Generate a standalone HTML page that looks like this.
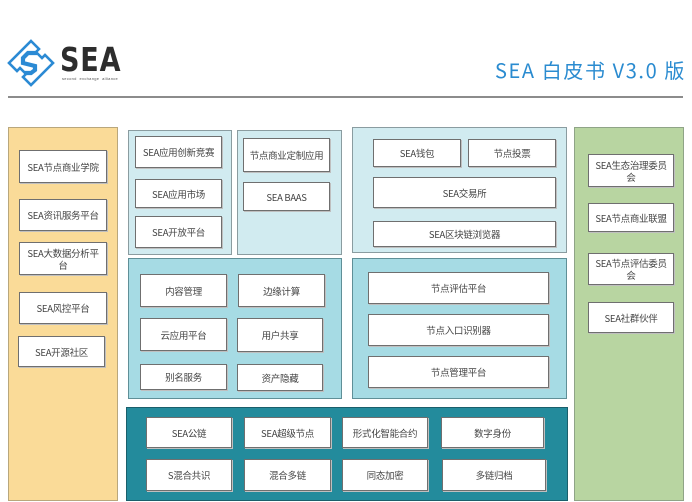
<!DOCTYPE html>
<html><head><meta charset="utf-8">
<style>
*{margin:0;padding:0;box-sizing:border-box}
body{width:692px;height:502px;background:#fff;position:relative;overflow:hidden;font-family:"Liberation Sans","Noto Sans CJK SC",sans-serif}
.p{position:absolute;border:1.5px solid #8a9ca0}
.b{position:absolute;background:#fff;border:1px solid #6f6f6f;box-shadow:1px 1px 0 #bfbfbf;display:flex;align-items:center;justify-content:center;text-align:center;font-size:9.5px;color:#444;line-height:12px;padding:0 3px;font-family:"Noto Sans CJK SC",sans-serif;letter-spacing:-0.3px;white-space:nowrap}
</style></head><body>
<svg style="position:absolute;left:6px;top:38px" width="50" height="50" viewBox="0 0 50 50">
<path d="M25 3 L33 11 L30 14 L36 20 L39 17 L47 25 L25 47 L17 39 L20 36 L14 30 L11 33 L3 25 Z" fill="none" stroke="#2b8ad4" stroke-width="2.6" stroke-linejoin="miter"/>
<path d="M31 15 L22 15 L17 20 L17 25 L29 28 L29 32 L25 35 L18 35" fill="none" stroke="#2b8ad4" stroke-width="4.2" stroke-linejoin="miter"/>
</svg>
<div style="position:absolute;left:60px;top:40px;font-size:33px;font-weight:bold;color:#2d2d2d;letter-spacing:1px;font-family:'DejaVu Sans','Liberation Sans',sans-serif;transform:scaleX(0.82);transform-origin:left top">SEA</div>
<div style="position:absolute;left:62px;top:76px;font-size:4px;color:#555;letter-spacing:0.3px">second&nbsp;&nbsp;exchange&nbsp;&nbsp;alliance</div>
<div style="position:absolute;left:495px;top:55px;font-size:20px;color:#2a8bd0;font-family:'Noto Sans CJK SC',sans-serif;letter-spacing:1.6px;white-space:nowrap">SEA 白皮书 V3.0 版</div>
<div style="position:absolute;left:8px;top:96px;width:675px;height:2px;background:#8c8c8c"></div>

<!-- panels -->
<div class="p" style="left:8px;top:127px;width:110px;height:374px;background:#fadb98;border-color:#b9a77c"></div>
<div class="p" style="left:128px;top:130px;width:104px;height:125px;background:#d1ebf0"></div>
<div class="p" style="left:237px;top:130px;width:105px;height:125px;background:#d1ebf0"></div>
<div class="p" style="left:352px;top:127px;width:215px;height:126px;background:#d1ebf0"></div>
<div class="p" style="left:574px;top:127px;width:110px;height:374px;background:#b8d5a1;border-color:#8fa487"></div>
<div class="p" style="left:128px;top:258px;width:214px;height:141px;background:#a6dbe4;border-color:#5f8f97"></div>
<div class="p" style="left:352px;top:258px;width:215px;height:141px;background:#a6dbe4;border-color:#5f8f97"></div>
<div class="p" style="left:126px;top:407px;width:442px;height:94px;background:#238b9c;border-color:#1a5f6b"></div>

<!-- left -->
<div class="b" style="left:19px;top:150px;width:88px;height:33px">SEA节点商业学院</div>
<div class="b" style="left:19px;top:199px;width:88px;height:32px">SEA资讯服务平台</div>
<div class="b" style="left:19px;top:242px;width:88px;height:33px">SEA大数据分析平<br>台</div>
<div class="b" style="left:19px;top:292px;width:88px;height:32px">SEA风控平台</div>
<div class="b" style="left:18px;top:336px;width:87px;height:31px">SEA开源社区</div>

<!-- top middle -->
<div class="b" style="left:135px;top:136px;width:87px;height:32px">SEA应用创新竞赛</div>
<div class="b" style="left:135px;top:179px;width:87px;height:29px">SEA应用市场</div>
<div class="b" style="left:135px;top:216px;width:87px;height:32px">SEA开放平台</div>
<div class="b" style="left:243px;top:138px;width:87px;height:34px">节点商业定制应用</div>
<div class="b" style="left:243px;top:182px;width:87px;height:29px">SEA BAAS</div>
<div class="b" style="left:373px;top:139px;width:88px;height:28px">SEA钱包</div>
<div class="b" style="left:468px;top:139px;width:88px;height:28px">节点投票</div>
<div class="b" style="left:373px;top:177px;width:183px;height:31px">SEA交易所</div>
<div class="b" style="left:373px;top:221px;width:183px;height:26px">SEA区块链浏览器</div>

<!-- right green -->
<div class="b" style="left:588px;top:154px;width:86px;height:33px">SEA生态治理委员<br>会</div>
<div class="b" style="left:588px;top:203px;width:86px;height:29px">SEA节点商业联盟</div>
<div class="b" style="left:588px;top:253px;width:86px;height:32px">SEA节点评估委员<br>会</div>
<div class="b" style="left:588px;top:302px;width:86px;height:31px">SEA社群伙伴</div>

<!-- middle row -->
<div class="b" style="left:140px;top:274px;width:87px;height:33px">内容管理</div>
<div class="b" style="left:238px;top:274px;width:87px;height:33px">边缘计算</div>
<div class="b" style="left:140px;top:318px;width:87px;height:33px">云应用平台</div>
<div class="b" style="left:237px;top:318px;width:86px;height:34px">用户共享</div>
<div class="b" style="left:140px;top:364px;width:87px;height:26px">别名服务</div>
<div class="b" style="left:237px;top:364px;width:86px;height:27px">资产隐藏</div>
<div class="b" style="left:368px;top:272px;width:181px;height:32px">节点评估平台</div>
<div class="b" style="left:368px;top:314px;width:181px;height:32px">节点入口识别器</div>
<div class="b" style="left:368px;top:356px;width:181px;height:32px">节点管理平台</div>

<!-- bottom -->
<div class="b" style="left:146px;top:417px;width:86px;height:31px">SEA公链</div>
<div class="b" style="left:244px;top:417px;width:87px;height:31px">SEA超级节点</div>
<div class="b" style="left:342px;top:417px;width:86px;height:31px">形式化智能合约</div>
<div class="b" style="left:441px;top:417px;width:103px;height:31px">数字身份</div>
<div class="b" style="left:146px;top:459px;width:86px;height:32px">S混合共识</div>
<div class="b" style="left:244px;top:459px;width:87px;height:32px">混合多链</div>
<div class="b" style="left:342px;top:459px;width:86px;height:32px">同态加密</div>
<div class="b" style="left:442px;top:459px;width:104px;height:32px">多链归档</div>
</body></html>
